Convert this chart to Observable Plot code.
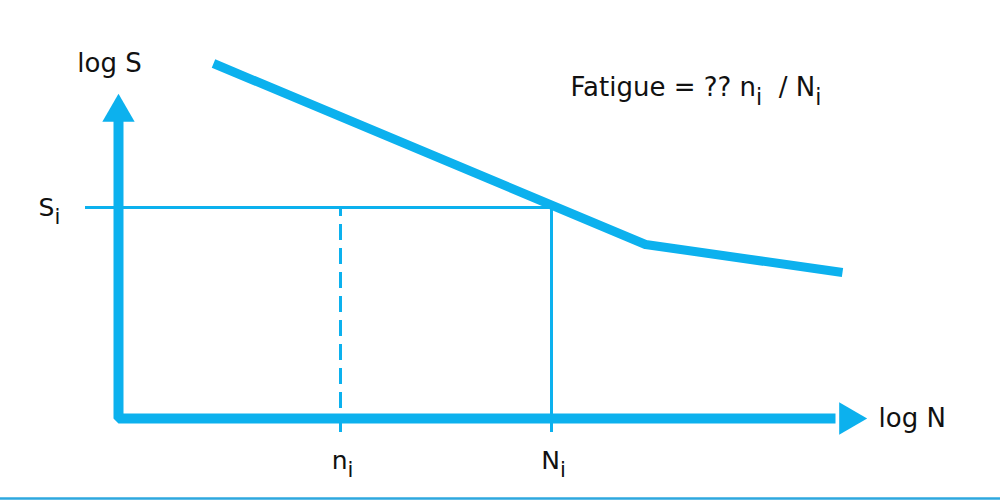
<!DOCTYPE html>
<html>
<head>
<meta charset="utf-8">
<script src="https://cdn.jsdelivr.net/npm/d3@7"></script>
<script src="https://cdn.jsdelivr.net/npm/@observablehq/plot@0.6"></script>
<style>
  html, body { margin: 0; padding: 0; background: #fff; }
  svg text { font-family: "DejaVu Sans", Lato, sans-serif; }
</style>
</head>
<body>
<div id="chart"></div>
<script>
// Schematic S-N curve (log S vs log N), in abstract log units
const curveLogN = [0.95, 5.27, 7.24];
const curveLogS = [7.1, 3.48, 2.92];

// Stress level and cycle counts
const Si = 4.22;
const ni = 2.22;
const Ni = 4.33;

// Axis extents (log units)
const axisEndN = 7.47;
const axisEndS = 6.5;

// Text labels
const xAxisTitle = "log N";
const yAxisTitle = "log S";
const stressLabel = "S_i";
const tickLabels = ["n_i", "N_i"];
const tickValues = [ni, Ni];
const formula = "Fatigue = ?? n_i  / N_i";

const blue = "#0cb1ee";

const curve = curveLogN.map((n, i) => ({n, s: curveLogS[i]}));
// S on curve at Ni
const sAtNi = curveLogS[0] + (curveLogS[1] - curveLogS[0]) * (Ni - curveLogN[0]) / (curveLogN[1] - curveLogN[0]);

const headLen = 0.3;
const axesPath = [
  {n: 0, s: axisEndS - 0.5},
  {n: 0, s: 0},
  {n: axisEndN - headLen, s: 0}
];

const chart = Plot.plot({
  width: 1000,
  height: 500,
  margin: 0,
  style: {background: "#fff", fontFamily: "'DejaVu Sans', sans-serif"},
  x: {domain: [-1.18, 8.82], axis: null},
  y: {domain: [-1.64, 8.36], axis: null},
  marks: [
    Plot.ruleY([-1.6], {stroke: "#2ea8df", strokeWidth: 2.5}),
    Plot.ruleY([Si], {x1: -0.33, x2: Ni, stroke: blue, strokeWidth: 3}),
    Plot.ruleX([ni], {y1: -0.28, y2: Si, stroke: blue, strokeWidth: 3, strokeDasharray: "16,8"}),
    Plot.ruleX([Ni], {y1: -0.28, y2: sAtNi, stroke: blue, strokeWidth: 3}),
    Plot.line(axesPath, {x: "n", y: "s", stroke: blue, strokeWidth: 10, strokeLinejoin: "miter", strokeLinecap: "butt"}),
    Plot.dot([{n: 0, s: axisEndS - 0.38}], {x: "n", y: "s", symbol: "triangle", r: 12, fill: blue, stroke: "none"}),
    Plot.dot([{n: axisEndN - 0.17, s: 0}], {x: "n", y: "s", symbol: "triangle", r: 12, fill: blue, stroke: "none", rotate: 90}),
    Plot.line(curve, {x: "n", y: "s", stroke: blue, strokeWidth: 9, strokeLinejoin: "round", strokeLinecap: "butt"}),
    Plot.text([yAxisTitle], {x: -0.09, y: 7.1, text: d => d, fontSize: 26, fill: "#111"}),
    Plot.text([xAxisTitle], {x: axisEndN + 0.13, y: 0, text: d => d, fontSize: 26, textAnchor: "start", fill: "#111"}),
    Plot.text([stressLabel], {x: -0.8, y: Si, text: d => d, fontSize: 25, textAnchor: "start", fill: "#111"}),
    Plot.text(tickLabels, {x: (d, i) => tickValues[i] + 0.02, y: -0.84, text: d => d, fontSize: 25, fill: "#111"}),
    Plot.text([formula], {x: 4.52, y: 6.62, text: d => d, fontSize: 26, textAnchor: "start", fill: "#111"})
  ]
});

// turn "_x" into subscripts
d3.select(chart).selectAll("text").each(function() {
  const el = this;
  const txt = el.textContent;
  if (!txt.includes("_")) return;
  const parts = txt.split(/_(\w)/);
  el.textContent = "";
  let shifted = false;
  parts.forEach((p, k) => {
    if (p === "") return;
    const t = document.createElementNS("http://www.w3.org/2000/svg", "tspan");
    t.textContent = p;
    if (k % 2 === 1) {
      t.setAttribute("dy", "0.4em");
      t.setAttribute("font-size", "0.85em");
      shifted = true;
    } else if (shifted) {
      t.setAttribute("dy", "-0.34em");
      shifted = false;
    }
    el.appendChild(t);
  });
});

document.getElementById("chart").appendChild(chart);
</script>
</body>
</html>
